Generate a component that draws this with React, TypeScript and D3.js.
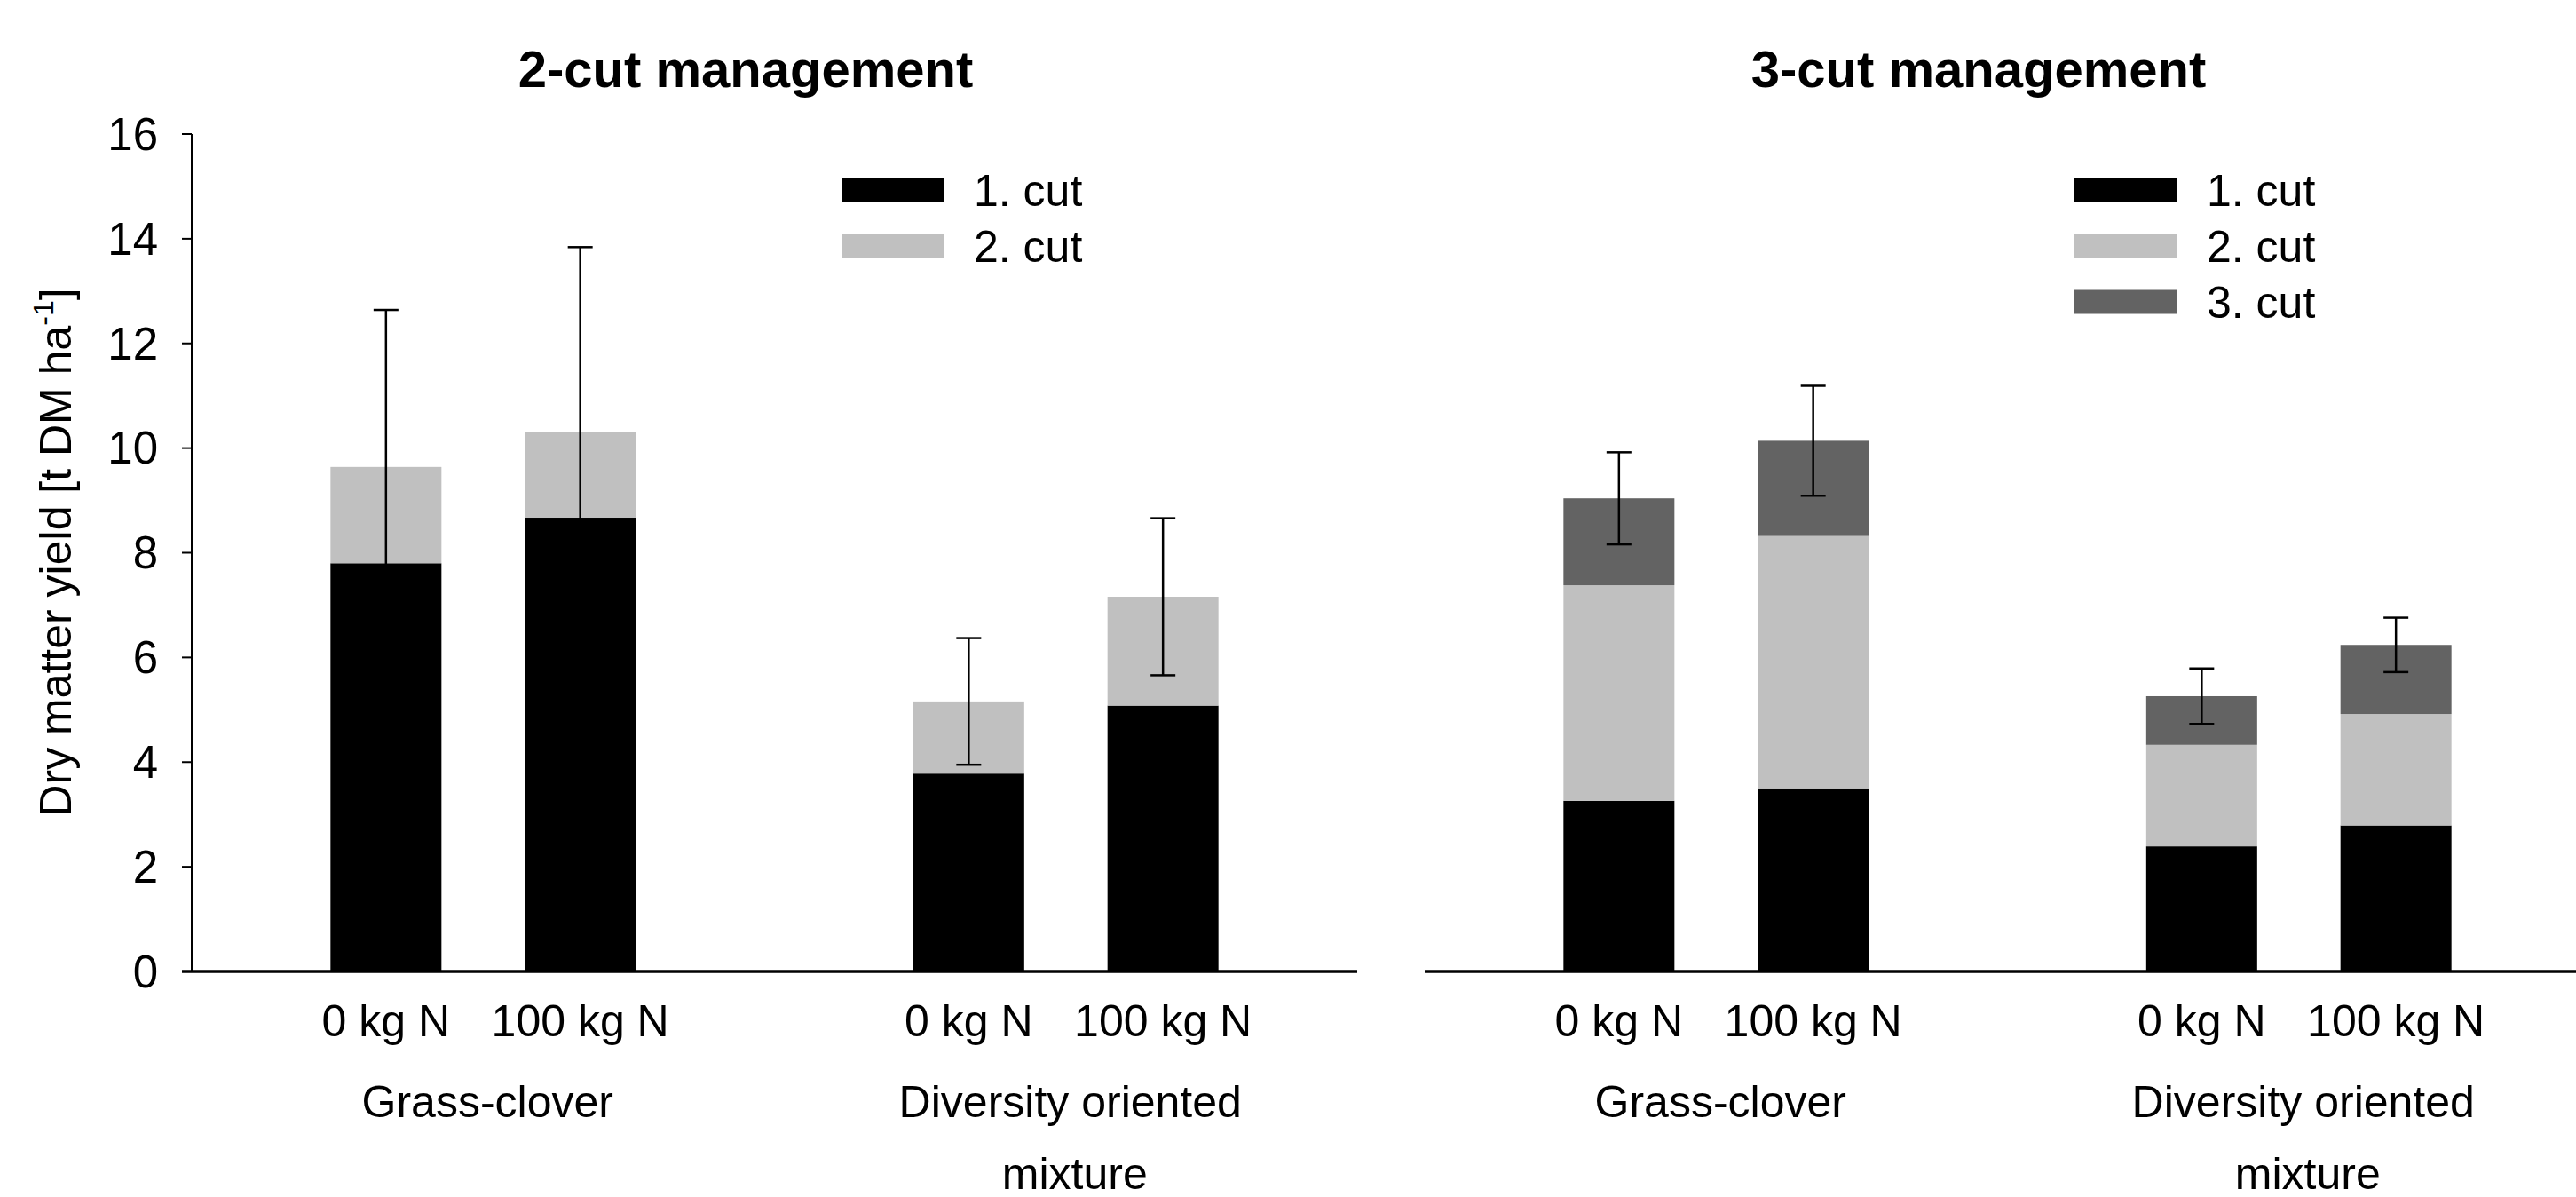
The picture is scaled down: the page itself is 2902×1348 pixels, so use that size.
import React from 'react';
import * as d3 from 'd3';

// categories
const groups = ['Grass-clover', 'Diversity oriented mixture'];
const nLevels = ['0 kg N', '100 kg N'];
const slots = ['s0', 'GC-0', 'GC-100', 'gap', 'DOM-0', 'DOM-100', 's6'];
const barSlots = ['GC-0', 'GC-100', 'DOM-0', 'DOM-100'];
const yTicks = [0, 2, 4, 6, 8, 10, 12, 14, 16];

// 2-cut management
const twoCut1 = [7.8, 8.67, 3.78, 5.08];
const twoCut2 = [1.84, 1.63, 1.38, 2.08];
const twoCutErr = [3.0, 3.54, 1.21, 1.5];

// 3-cut management
const threeCut1 = [3.26, 3.5, 2.39, 2.79];
const threeCut2 = [4.12, 4.82, 1.94, 2.13];
const threeCut3 = [1.66, 1.82, 0.93, 1.32];
const threeCutErr = [0.88, 1.05, 0.53, 0.52];

const cutNames = ['1. cut', '2. cut', '3. cut'];
const cutColors = ['#000000', '#c0c0c0', '#636363'];

const FONT = '"Liberation Sans", Arial, sans-serif';
const W = 2902;
const H = 1348;
const axisW = 1313;
const barW = 125;

const y = d3.scaleLinear().domain([0, 16]).range([1094, 151]);

function Panel({ x0, title, series, err, showY }: any) {
  const x = d3.scalePoint().domain(slots).range([x0, x0 + axisW]);
  const rows = barSlots.map((s, i) => {
    const r: any = { slot: s };
    series.forEach((v: number[], k: number) => (r['c' + k] = v[i]));
    return r;
  });
  const keys = series.map((_: any, k: number) => 'c' + k);
  const stacked = d3.stack().keys(keys)(rows);
  const totals = rows.map((r: any) => d3.sum(keys, (k: string) => r[k]));
  const capW = 14;
  const gcMid = ((x('GC-0') as number) + (x('GC-100') as number)) / 2;
  const domMid = ((x('DOM-0') as number) + (x('DOM-100') as number)) / 2;

  return (
    <g>
      <text x={x0 + 624} y={98} textAnchor="middle" fontFamily={FONT} fontWeight="bold" fontSize={58}>
        {title}
      </text>
      {stacked.map((layer: any, k: number) => (
        <g key={k} fill={cutColors[k]}>
          {layer.map((d: any, i: number) => (
            <rect
              key={i}
              x={(x(barSlots[i]) as number) - barW / 2}
              width={barW}
              y={y(d[1])}
              height={y(d[0]) - y(d[1])}
            />
          ))}
        </g>
      ))}
      {totals.map((t: number, i: number) => {
        const cx = x(barSlots[i]) as number;
        return (
          <g key={'e' + i} stroke="#000" strokeWidth={2.5}>
            <line x1={cx} x2={cx} y1={y(t + err[i])} y2={y(t - err[i])} />
            <line x1={cx - capW} x2={cx + capW} y1={y(t + err[i])} y2={y(t + err[i])} />
            <line x1={cx - capW} x2={cx + capW} y1={y(t - err[i])} y2={y(t - err[i])} />
          </g>
        );
      })}
      {showY && (
        <g>
          <line x1={x0} x2={x0} y1={y(16)} y2={y(0)} stroke="#000" strokeWidth={2} />
          {yTicks.map((t) => (
            <g key={t}>
              <line x1={x0 - 11} x2={x0} y1={y(t)} y2={y(t)} stroke="#000" strokeWidth={2} />
              <text x={178} y={y(t)} dy="0.35em" textAnchor="end" fontFamily={FONT} fontSize={51}>
                {t}
              </text>
            </g>
          ))}
        </g>
      )}
      <line x1={showY ? x0 - 11 : x0} x2={x0 + axisW} y1={y(0)} y2={y(0)} stroke="#000" strokeWidth={3.5} />
      {barSlots.map((s, i) => (
        <text key={s} x={x(s) as number} y={1167} textAnchor="middle" fontFamily={FONT} fontSize={50}>
          {nLevels[i % 2]}
        </text>
      ))}
      <text x={gcMid + 5} y={1258} textAnchor="middle" fontFamily={FONT} fontSize={50}>
        {groups[0]}
      </text>
      <text x={domMid + 5} y={1258} textAnchor="middle" fontFamily={FONT} fontSize={50}>
        {'Diversity oriented'}
      </text>
      <text x={domMid + 10} y={1339} textAnchor="middle" fontFamily={FONT} fontSize={50}>
        {'mixture'}
      </text>
      {series.map((_: any, k: number) => (
        <g key={'l' + k} transform={`translate(${x0 + 732},${214 + k * 63})`}>
          <rect x={0} y={-13.5} width={116} height={27} fill={cutColors[k]} />
          <text x={149} y={0} dy="0.36em" fontFamily={FONT} fontSize={50}>
            {cutNames[k]}
          </text>
        </g>
      ))}
    </g>
  );
}

export default function App() {
  return (
    <svg
      width={W}
      height={H}
      style={{ position: 'absolute', left: 0, top: 0, background: '#fff' }}
    >
      <rect width={W} height={H} fill="#fff" />
      <text
        transform={`translate(80,622) rotate(-90)`}
        textAnchor="middle"
        fontFamily={FONT}
        fontSize={50}
      >
        Dry matter yield [t DM ha
        <tspan dy={-20} fontSize={32}>-1</tspan>
        <tspan dy={20}>]</tspan>
      </text>
      <Panel x0={216} title="2-cut management" series={[twoCut1, twoCut2]} err={twoCutErr} showY={true} />
      <Panel
        x0={1605}
        title="3-cut management"
        series={[threeCut1, threeCut2, threeCut3]}
        err={threeCutErr}
        showY={false}
      />
    </svg>
  );
}
